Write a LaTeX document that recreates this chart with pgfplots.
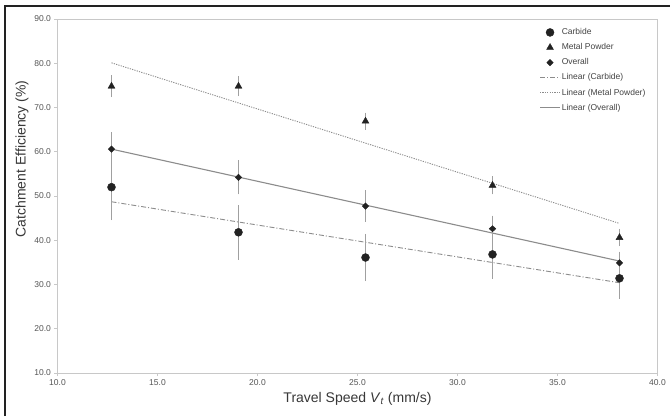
\documentclass[border=0pt]{standalone}
\usepackage{pgfplots}
\pgfplotsset{compat=1.18}
\usepackage{fontspec}
\setmainfont{Liberation Sans}

\definecolor{ink}{HTML}{222222}
\definecolor{tlab}{HTML}{555555}
\definecolor{axgray}{HTML}{C8C8C8}
\definecolor{ebar}{HTML}{A0A0A0}
\definecolor{trend}{HTML}{8C8C8C}

\pgfplotsset{
  markleg/.style={legend image code/.code={\draw[##1] plot[only marks] coordinates {(10pt,0pt)};}},
  ebars/.style={error bars/.cd,y dir=both,y explicit,error bar style={ebar,line width=0.75pt},
    error mark options={ebar,mark size=2pt,line width=0.7pt}},
}

\begin{document}
\begin{tikzpicture}
\useasboundingbox (-57.5pt,-43pt) rectangle (612.5pt,373pt);
\fill[white] (-57.5pt,-43pt) rectangle (612.5pt,373pt);
\draw[ink,line width=1.4pt] (-52.5pt,-43pt) -- (-52.5pt,367pt) -- (612.5pt,367pt);
\begin{axis}[
  scale only axis,width=600pt,height=354pt,
  xmin=10,xmax=40,ymin=10,ymax=90,
  xtick={10,15,...,40},ytick={10,20,...,90},
  xtick pos=left,ytick pos=left,tick align=outside,
  major tick length=3pt,
  axis line style={axgray,line width=0.9pt},
  tick style={axgray,line width=0.8pt},
  ticklabel style={font=\fontsize{8.5}{10}\selectfont,text=tlab},
  /pgf/number format/.cd,fixed,fixed zerofill,precision=1,assume math mode=true,/pgfplots/.cd,
  xlabel={Travel Speed \textit{V}\textsubscript{\textit{t}} (mm/s)},
  ylabel={Catchment Efficiency (\%)},
  every axis x label/.style={at={(axis description cs:0.5,0)},anchor=center,yshift=-26pt,
    font=\fontsize{14}{16}\selectfont,text=ink!90},
  every axis y label/.style={at={(axis description cs:0,0.605)},rotate=90,anchor=center,yshift=35.5pt,
    font=\fontsize{14}{16}\selectfont,text=ink!90},
  legend style={draw=none,fill=none,at={(0.803,0.978)},anchor=north west,
    font=\fontsize{8.5}{10}\selectfont,text=ink!85,row sep=4.2pt,inner sep=0pt,
    nodes={text height=6.5pt,text depth=2pt,inner sep=1.2pt}},
  legend cell align=left,
  legend image code/.code={\draw[#1] (0pt,0pt) -- (20pt,0pt);},
  clip=false,
]
% trend lines (linear fits, end points)
\addplot[forget plot,trend,line width=0.9pt,dash pattern=on 5pt off 2pt on 1pt off 2pt] coordinates {(12.7,48.7) (38.1,30.4)};
\addplot[forget plot,trend,line width=0.9pt,dash pattern=on 1.2pt off 1.2pt] coordinates {(12.7,80.1) (38.1,43.8)};
\addplot[forget plot,trend,line width=1.1pt] coordinates {(12.7,60.6) (38.1,35.3)};

\addplot[only marks,mark=*,mark size=4pt,ink,markleg,ebars]
  coordinates {(12.7,52.0) +- (0,7.0) (19.05,41.8) +- (0,5.7) (25.4,36.1) +- (0,4.9) (31.75,36.8) +- (0,5.0) (38.1,31.4) +- (0,4.2)};
\addlegendentry{Carbide}
\addplot[only marks,mark=triangle*,mark size=4pt,ink,markleg,ebars]
  coordinates {(12.7,74.8) +- (0,2.0) (19.05,74.8) +- (0,1.8) (25.4,66.9) +- (0,1.5) (31.75,52.4) +- (0,1.6) (38.1,40.6) +- (0,1.5)};
\addlegendentry{Metal Powder}
\addplot[only marks,mark=diamond*,mark size=3.2pt,mark options={ink,xscale=1.35},ink,markleg,ebars]
  coordinates {(12.7,60.6) +- (0,3.4) (19.05,54.2) +- (0,3.4) (25.4,47.7) +- (0,3.1) (31.75,42.6) +- (0,2.5) (38.1,34.9) +- (0,2.1)};
\addlegendentry{Overall}

\addlegendimage{trend,line width=0.9pt,dash pattern=on 5pt off 2pt on 1pt off 2pt}
\addlegendentry{Linear (Carbide)}
\addlegendimage{trend,line width=0.9pt,dash pattern=on 1.2pt off 1.2pt}
\addlegendentry{Linear (Metal Powder)}
\addlegendimage{trend,line width=1.1pt}
\addlegendentry{Linear (Overall)}
\end{axis}
\end{tikzpicture}
\end{document}
